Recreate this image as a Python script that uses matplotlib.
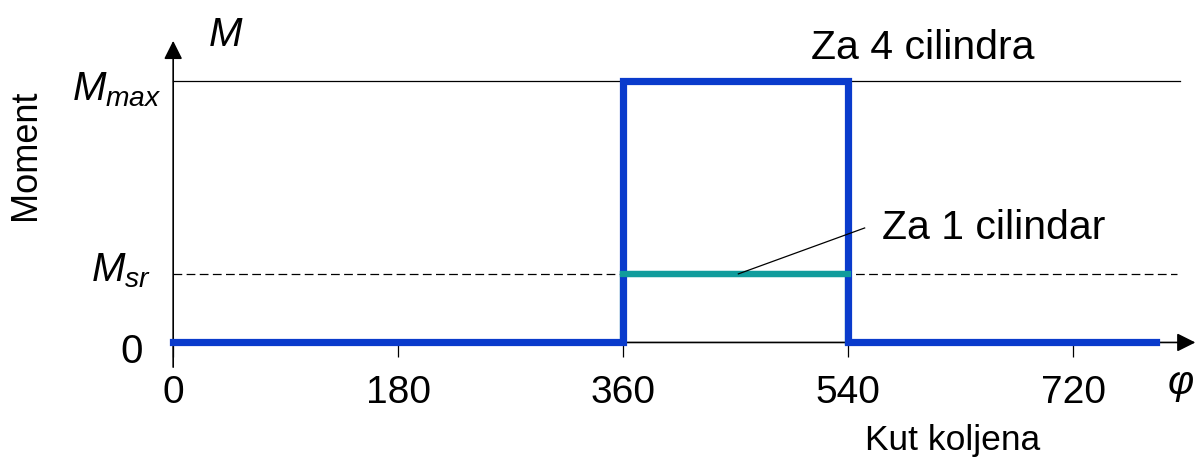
import matplotlib
matplotlib.use("Agg")
import matplotlib.pyplot as plt

plt.rcParams["font.family"] = ["Liberation Sans", "DejaVu Sans"]
plt.rcParams["mathtext.fontset"] = "custom"
plt.rcParams["mathtext.rm"] = "Liberation Sans"
plt.rcParams["mathtext.it"] = "Liberation Sans:italic"

# values (moment in units of M_sr)
m_sr = 1.0
m_max = 3.82
phi_end = 786

# 4 cylinders: one big pulse, 1 cylinder: average level
phi_4cyl = [0, 360, 360, 540, 540, phi_end]
m_4cyl = [0, 0, m_max, m_max, 0, 0]
phi_1cyl = [360, 360, 540, 540]
m_1cyl = [0, m_sr, m_sr, 0]

x_ticks = [0, 180, 360, 540, 720]
x_ticklabels = ["0", "180", "360", "540", "720"]

blue = "#0a3bcc"
teal = "#109c9c"

fig = plt.figure(figsize=(11.96, 4.6), dpi=100, facecolor="white")
ax = fig.add_axes([0, 0, 1, 1])
ax.set_xlim(-138.5, 818.0)
ax.set_ylim(-1.70, 5.01)
for s in ax.spines.values():
  s.set_visible(False)

# axes with arrow heads
ax.annotate("", xy=(817.5, 0), xytext=(0, 0),
            arrowprops=dict(arrowstyle="-|>", color="black", lw=1.2,
                            mutation_scale=28, shrinkA=0, shrinkB=0), zorder=1)
ax.annotate("", xy=(0, 4.40), xytext=(0, -0.36),
            arrowprops=dict(arrowstyle="-|>", color="black", lw=1.2,
                            mutation_scale=28, shrinkA=0, shrinkB=0), zorder=1)

# reference levels
ax.plot([0, 805], [m_max, m_max], color="black", lw=0.9, zorder=1)
ax.plot([0, 803], [m_sr, m_sr], color="black", lw=0.9, dashes=(7, 3.5), zorder=1)

ax.plot(phi_1cyl, m_1cyl, color=teal, lw=4.5, zorder=2, solid_joinstyle="miter")
ax.plot(phi_4cyl, m_4cyl, color=blue, lw=5.2, zorder=3, solid_joinstyle="miter")
ax.plot(phi_1cyl[1:3], m_1cyl[1:3], color=teal, lw=4.5, zorder=4)

# leader line for the single-cylinder label
ax.plot([452, 553], [m_sr, 1.67], color="black", lw=0.9, zorder=5)

ax.set_xticks(x_ticks)
ax.set_xticklabels(x_ticklabels)
ax.tick_params(axis="x", direction="out", length=11, width=0.9, pad=12,
               labelsize=28)
ax.set_yticks([])
ax.xaxis.set_ticks_position("bottom")
ax.spines["bottom"].set_position(("data", 0))

fs = 29
ax.text(-24, -0.28, "0", fontsize=fs, ha="right", va="baseline")
ax.text(-9.6, 3.55, r"$M_{max}$", fontsize=fs, ha="right", va="baseline")
ax.text(-18, 0.90, r"$M_{sr}$", fontsize=fs, ha="right", va="baseline")
ax.text(41.7, 4.5, "M", fontsize=fs, style="italic", ha="center", va="center")
ax.text(-118, 2.75, "Moment", fontsize=26, rotation=90, ha="center", va="center")

ax.text(510, 4.15, "Za 4 cilindra", fontsize=fs + 0.5, ha="left", va="baseline")
ax.text(567, 1.53, "Za 1 cilindar", fontsize=fs + 0.5, ha="left", va="baseline")
ax.text(806, -0.57, "φ", fontsize=fs, style="italic", ha="center", va="center")
ax.text(553, -1.55, "Kut koljena", fontsize=25.5, ha="left", va="baseline")

fig.savefig("out.png", dpi=100, facecolor="white")
